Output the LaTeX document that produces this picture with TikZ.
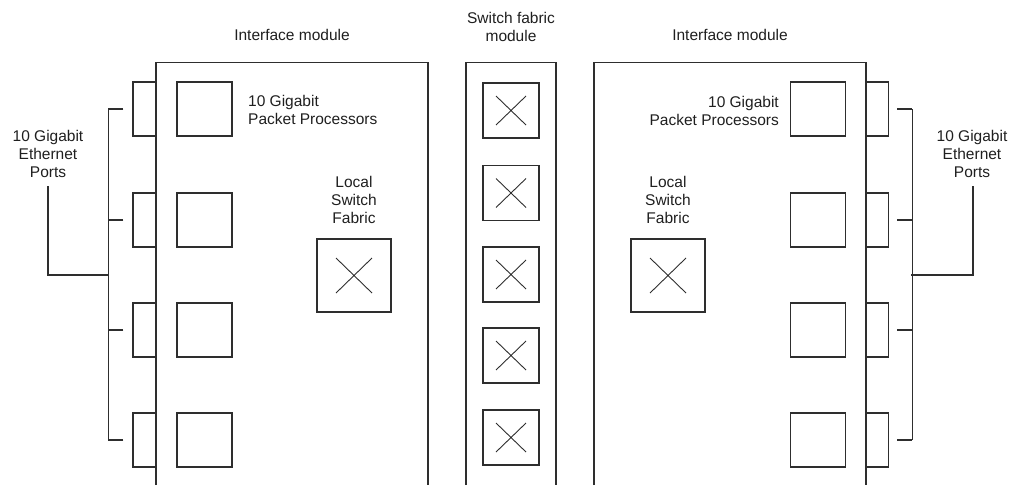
\documentclass[tikz,border=0pt]{standalone}
\usepackage{fontspec}
\setmainfont{Liberation Sans}
\usetikzlibrary{calc}

\begin{document}
\begin{tikzpicture}[x=1pt,y=-1pt,
  ln/.style={draw=black!82,line width=1.15pt},
  lbl/.style={inner sep=0pt,text=black!88,font=\fontsize{15.5}{18}\selectfont},
  port/.style={ln,minimum width=23pt,minimum height=54pt,inner sep=0pt},
  proc/.style={ln,minimum width=55pt,minimum height=54pt,inner sep=0pt},
  xbox/.style={ln,inner sep=0pt,path picture={
      \draw[black!82,line width=0.9pt]
        ([shift={(#1,-#1)}]path picture bounding box.north west) --
        ([shift={(-#1,#1)}]path picture bounding box.south east)
        ([shift={(-#1,-#1)}]path picture bounding box.north east) --
        ([shift={(#1,#1)}]path picture bounding box.south west);}},
  sfab/.style={xbox=13pt,minimum width=56pt,minimum height=55pt},
  lfab/.style={xbox=19pt,minimum width=74pt,minimum height=73pt}]

\useasboundingbox (0,0) rectangle (1011,485);

% module outlines, open at the bottom
\draw[ln] (156,485) -- (156,62.5) -- (428,62.5) -- (428,485);
\draw[ln] (466,485) -- (466,62.5) -- (556,62.5) -- (556,485);
\draw[ln] (594,485) -- (594,62.5) -- (866,62.5) -- (866,485);

% titles
\node[lbl] (tl) at (292,35) {Interface module};
\node[lbl] (tr) at (730,35) {Interface module};
\node[lbl,align=center] (tc) at (511,27) {Switch fabric\\module};

% left interface module: ports and packet processors
\foreach \i/\y in {1/109,2/220,3/330,4/440}{
  \node[port] (lp\i) at (144.5,\y) {};
  \node[proc] (lq\i) at (204.5,\y) {};
  \node[port] (rp\i) at (877,\y) {};
  \node[proc] (rq\i) at (818,\y) {};
  \draw[ln] ([xshift=-9pt]lp\i.west) -- ([xshift=-24pt]lp\i.west);
  \draw[ln] ([xshift=8pt]rp\i.east) -- ([xshift=23pt]rp\i.east);
}

% port buses
\draw[ln] ([xshift=-24pt]lp1.west) -- ([xshift=-24pt]lp4.west);
\draw[ln] ([xshift=23pt]rp1.east) -- ([xshift=23pt]rp4.east);

% port labels and their leads
\node[lbl,align=center] (leth) at (48,153.5) {10 Gigabit\\Ethernet\\Ports};
\node[lbl,align=center] (reth) at (972,153.5) {10 Gigabit\\Ethernet\\Ports};
\coordinate (llead) at (48,186);
\coordinate (lbus) at (109,275);
\coordinate (rlead) at (973,186);
\coordinate (rbus) at (911,275);
\draw[ln] (llead) |- (lbus);
\draw[ln] (rlead) |- (rbus);

% processor labels
\node[lbl,align=left,anchor=west] (lpp) at (248,110) {10 Gigabit\\Packet Processors};
\node[lbl,align=right,anchor=east] (rpp) at (779,111) {10 Gigabit\\Packet Processors};

% local switch fabrics
\node[lbl,align=center] (llsf) at (354,200) {Local\\Switch\\Fabric};
\node[lbl,align=center] (rlsf) at (668,200) {Local\\Switch\\Fabric};
\node[lfab] (lf) at (354,275.5) {};
\node[lfab] (rf) at (668,275.5) {};

% switch fabric module crossbars
\foreach \i/\y in {1/110.5,2/193,3/274.5,4/355.5,5/437.5}{
  \node[sfab] (sf\i) at (511,\y) {};
}
\end{tikzpicture}
\end{document}
